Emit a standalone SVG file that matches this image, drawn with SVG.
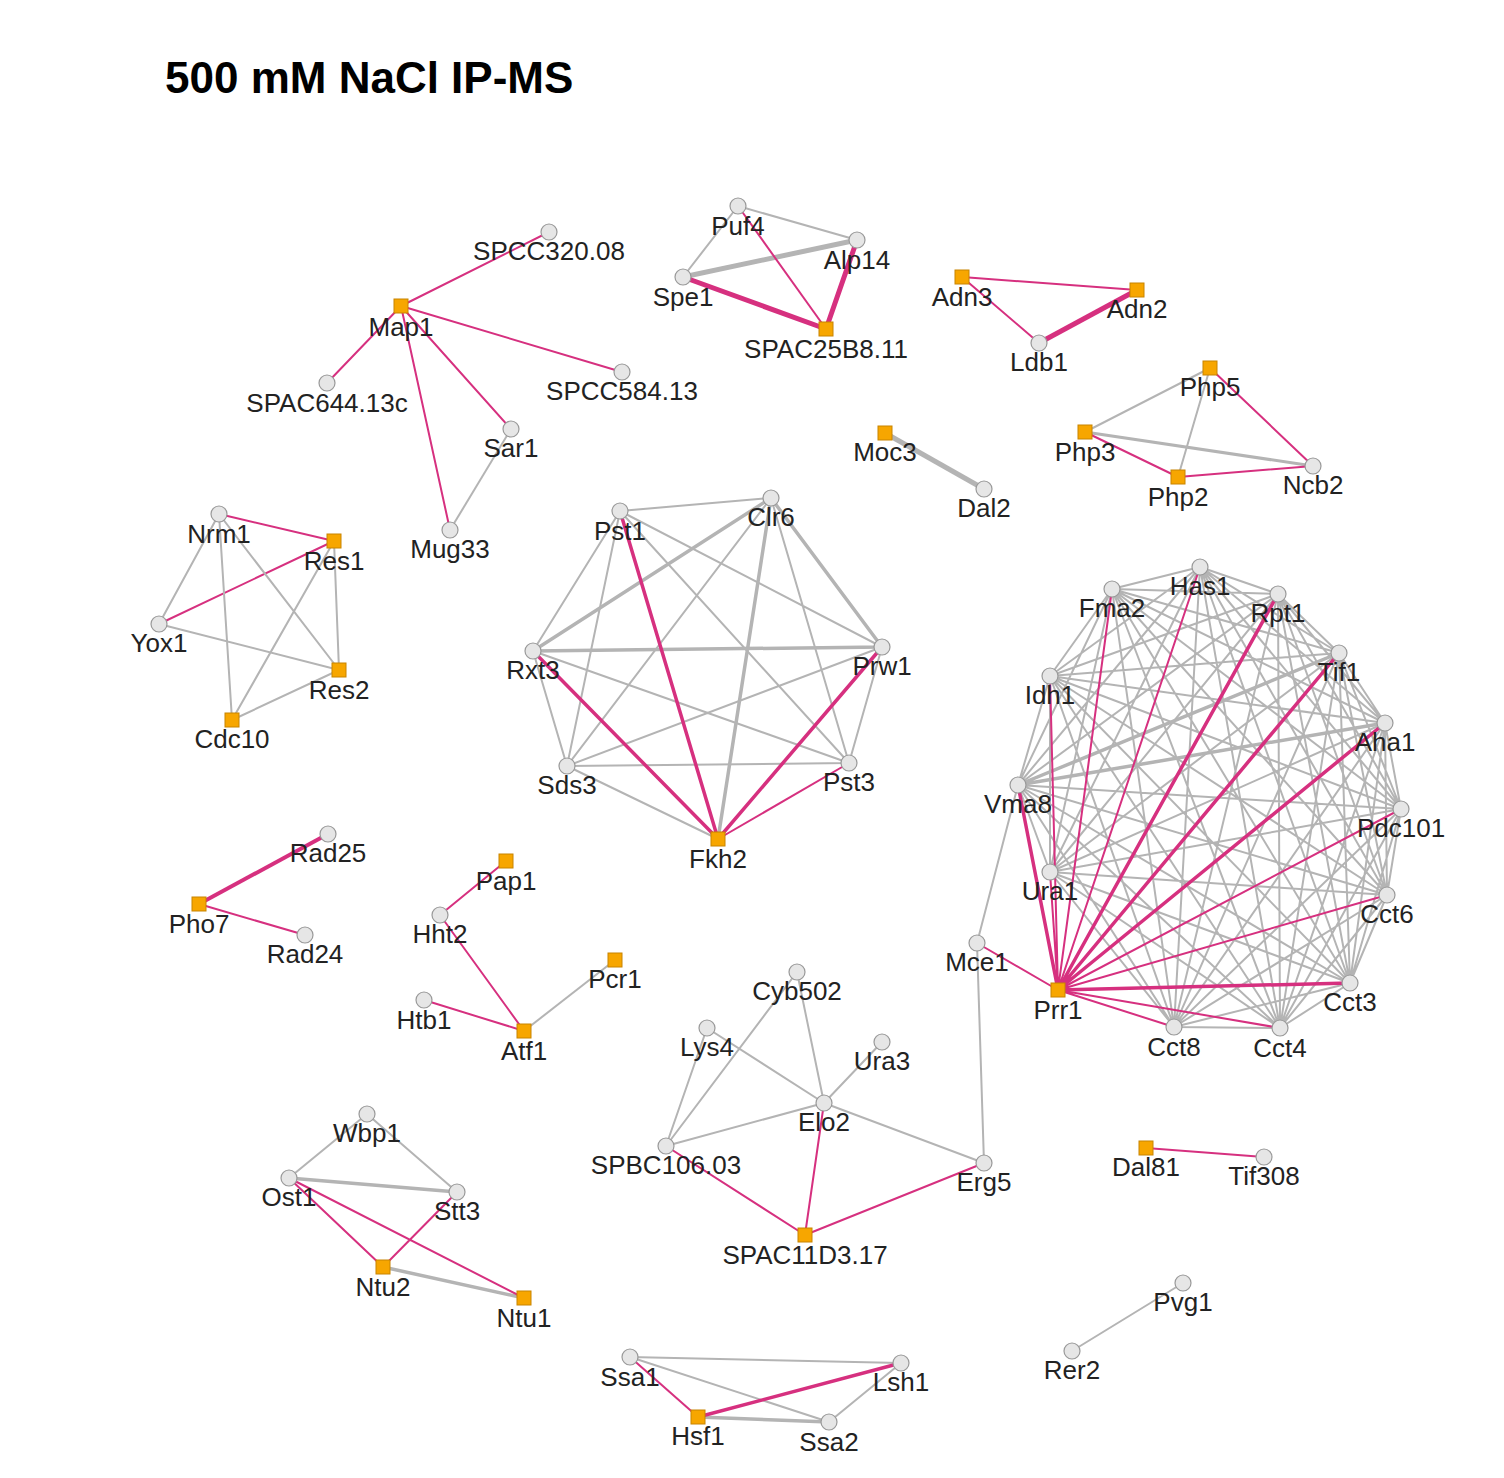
<svg xmlns="http://www.w3.org/2000/svg" width="1504" height="1478" viewBox="0 0 1504 1478">
<style>
.g{stroke:#b4b4b4;stroke-width:2;fill:none}
.gt{stroke:#b4b4b4;stroke-width:5;fill:none}
.p{stroke:#d6307f;stroke-width:2;fill:none}
.pt{stroke:#d6307f;stroke-width:5;fill:none}
.c{fill:#e6e6e6;stroke:#999;stroke-width:1.2}
.s{fill:#f7a600;stroke:#c88400;stroke-width:1}
text{font-family:"Liberation Sans",Arial,sans-serif;font-size:26px;fill:#222;text-anchor:middle}
.t{font-size:44px;font-weight:bold;text-anchor:start;fill:#000}
</style>
<rect width="1504" height="1478" fill="#fff"/>
<text class="t" x="165" y="93">500 mM NaCl IP-MS</text>
<g id="edges">
<path class="p" d="M401,306L549,232M401,306L327,383M401,306L622,372M401,306L511,429M401,306L450,530"/>
<path class="g" d="M511,429L450,530"/>
<path class="g" d="M738,206L857,240M738,206L683,277"/>
<path class="gt" d="M683,277L857,240"/>
<path class="p" d="M738,206L826,329"/>
<path class="pt" d="M683,277L826,329M857,240L826,329"/>
<path class="p" d="M962,277L1137,290M962,277L1039,343"/>
<path class="pt" d="M1039,343L1137,290"/>
<path class="g" d="M1210,368L1085,432M1210,368L1178,477"/>
<path class="gt" d="M1085,432L1313,466" style="stroke-width:3"/>
<path class="p" d="M1210,368L1313,466M1085,432L1178,477M1178,477L1313,466"/>
<path class="gt" d="M885,433L984,489"/>
<path class="p" d="M219,514L334,541M159,624L334,541"/>
<path class="g" d="M219,514L159,624M219,514L232,720M219,514L339,670M159,624L339,670M334,541L339,670M334,541L232,720M232,720L339,670"/>
<path class="g" d="M620,511L771,498M620,511L533,651M620,511L882,647M620,511L567,766M620,511L849,763M771,498L567,766M771,498L849,763M533,651L567,766M533,651L849,763M882,647L567,766M882,647L849,763M567,766L849,763M567,766L718,839"/>
<path class="gt" d="M771,498L533,651M771,498L882,647M533,651L882,647M771,498L718,839" style="stroke-width:3.5"/>
<path class="p" d="M849,763L718,839"/>
<path class="pt" d="M620,511L718,839M533,651L718,839M882,647L718,839" style="stroke-width:3.5"/>
<path class="pt" d="M328,834L199,904" style="stroke-width:4"/>
<path class="p" d="M199,904L305,935M506,861L440,915M440,915L524,1031M424,1000L524,1031"/>
<path class="g" d="M524,1031L615,960"/>
<path class="g" d="M797,972L666,1146M797,972L824,1103M707,1028L824,1103M707,1028L666,1146M882,1042L824,1103M824,1103L666,1146M824,1103L984,1163M984,1163L977,943M977,943L1018,785"/>
<path class="p" d="M824,1103L805,1235M666,1146L805,1235M984,1163L805,1235M977,943L1058,990M1146,1148L1264,1157"/>
<path class="g" d="M367,1114L289,1178M367,1114L457,1192"/>
<path class="gt" d="M289,1178L457,1192M383,1267L524,1298" style="stroke-width:3.5"/>
<path class="p" d="M289,1178L383,1267M289,1178L524,1298M457,1192L383,1267"/>
<path class="g" d="M1183,1283L1072,1351M630,1357L901,1363M630,1357L829,1422M829,1422L901,1363"/>
<path class="gt" d="M698,1417L829,1422" style="stroke-width:3.5"/>
<path class="p" d="M630,1357L698,1417"/>
<path class="pt" d="M698,1417L901,1363" style="stroke-width:3.5"/>
<path class="g" d="M1200,567L1112,589M1200,567L1278,594M1200,567L1339,653M1200,567L1050,676M1200,567L1385,723M1200,567L1018,785M1200,567L1401,809M1200,567L1050,872M1200,567L1387,895M1200,567L1350,983M1200,567L1174,1027M1200,567L1280,1028
M1112,589L1278,594M1112,589L1339,653M1112,589L1050,676M1112,589L1385,723M1112,589L1018,785M1112,589L1401,809M1112,589L1050,872M1112,589L1387,895M1112,589L1350,983M1112,589L1174,1027M1112,589L1280,1028
M1278,594L1339,653M1278,594L1050,676M1278,594L1385,723M1278,594L1018,785M1278,594L1401,809M1278,594L1050,872M1278,594L1387,895M1278,594L1350,983M1278,594L1174,1027M1278,594L1280,1028
M1339,653L1050,676M1339,653L1385,723M1339,653L1018,785M1339,653L1401,809M1339,653L1050,872M1339,653L1387,895M1339,653L1350,983M1339,653L1174,1027M1339,653L1280,1028
M1050,676L1385,723M1050,676L1018,785M1050,676L1401,809M1050,676L1050,872M1050,676L1387,895M1050,676L1350,983M1050,676L1174,1027M1050,676L1280,1028
M1385,723L1018,785M1385,723L1401,809M1385,723L1050,872M1385,723L1387,895M1385,723L1350,983M1385,723L1174,1027M1385,723L1280,1028
M1018,785L1401,809M1018,785L1050,872M1018,785L1387,895M1018,785L1350,983M1018,785L1174,1027M1018,785L1280,1028
M1401,809L1050,872M1401,809L1387,895M1401,809L1350,983M1401,809L1174,1027M1401,809L1280,1028
M1050,872L1387,895M1050,872L1350,983M1050,872L1174,1027M1050,872L1280,1028
M1387,895L1350,983M1387,895L1174,1027M1387,895L1280,1028M1350,983L1174,1027M1350,983L1280,1028M1174,1027L1280,1028"/>
<path class="gt" d="M1018,785L1385,723M1018,785L1339,653" style="stroke-width:3.5"/>
<path class="p" d="M1058,990L1112,589M1058,990L1200,567M1058,990L1050,676M1058,990L1050,872M1058,990L1401,809M1058,990L1387,895M1058,990L1174,1027M1058,990L1280,1028"/>
<path class="pt" d="M1058,990L1278,594M1058,990L1339,653M1058,990L1385,723M1058,990L1018,785M1058,990L1350,983" style="stroke-width:3.5"/>
</g>
<g id="n-SPCC320.08"><circle class="c" cx="549" cy="232" r="8"/><text x="549" y="260">SPCC320.08</text></g>
<g id="n-Map1"><rect class="s" x="394" y="299" width="14" height="14"/><text x="401" y="336">Map1</text></g>
<g id="n-SPAC644.13c"><circle class="c" cx="327" cy="383" r="8"/><text x="327" y="412">SPAC644.13c</text></g>
<g id="n-SPCC584.13"><circle class="c" cx="622" cy="372" r="8"/><text x="622" y="400">SPCC584.13</text></g>
<g id="n-Sar1"><circle class="c" cx="511" cy="429" r="8"/><text x="511" y="457">Sar1</text></g>
<g id="n-Mug33"><circle class="c" cx="450" cy="530" r="8"/><text x="450" y="558">Mug33</text></g>
<g id="n-Puf4"><circle class="c" cx="738" cy="206" r="8"/><text x="738" y="235">Puf4</text></g>
<g id="n-Alp14"><circle class="c" cx="857" cy="240" r="8"/><text x="857" y="269">Alp14</text></g>
<g id="n-Spe1"><circle class="c" cx="683" cy="277" r="8"/><text x="683" y="306">Spe1</text></g>
<g id="n-SPAC25B8.11"><rect class="s" x="819" y="322" width="14" height="14"/><text x="826" y="358">SPAC25B8.11</text></g>
<g id="n-Adn3"><rect class="s" x="955" y="270" width="14" height="14"/><text x="962" y="306">Adn3</text></g>
<g id="n-Adn2"><rect class="s" x="1130" y="283" width="14" height="14"/><text x="1137" y="318">Adn2</text></g>
<g id="n-Ldb1"><circle class="c" cx="1039" cy="343" r="8"/><text x="1039" y="371">Ldb1</text></g>
<g id="n-Php5"><rect class="s" x="1203" y="361" width="14" height="14"/><text x="1210" y="396">Php5</text></g>
<g id="n-Php3"><rect class="s" x="1078" y="425" width="14" height="14"/><text x="1085" y="461">Php3</text></g>
<g id="n-Php2"><rect class="s" x="1171" y="470" width="14" height="14"/><text x="1178" y="506">Php2</text></g>
<g id="n-Ncb2"><circle class="c" cx="1313" cy="466" r="8"/><text x="1313" y="494">Ncb2</text></g>
<g id="n-Moc3"><rect class="s" x="878" y="426" width="14" height="14"/><text x="885" y="461">Moc3</text></g>
<g id="n-Dal2"><circle class="c" cx="984" cy="489" r="8"/><text x="984" y="517">Dal2</text></g>
<g id="n-Nrm1"><circle class="c" cx="219" cy="514" r="8"/><text x="219" y="543">Nrm1</text></g>
<g id="n-Res1"><rect class="s" x="327" y="534" width="14" height="14"/><text x="334" y="570">Res1</text></g>
<g id="n-Yox1"><circle class="c" cx="159" cy="624" r="8"/><text x="159" y="652">Yox1</text></g>
<g id="n-Res2"><rect class="s" x="332" y="663" width="14" height="14"/><text x="339" y="699">Res2</text></g>
<g id="n-Cdc10"><rect class="s" x="225" y="713" width="14" height="14"/><text x="232" y="748">Cdc10</text></g>
<g id="n-Pst1"><circle class="c" cx="620" cy="511" r="8"/><text x="620" y="540">Pst1</text></g>
<g id="n-Clr6"><circle class="c" cx="771" cy="498" r="8"/><text x="771" y="526">Clr6</text></g>
<g id="n-Rxt3"><circle class="c" cx="533" cy="651" r="8"/><text x="533" y="679">Rxt3</text></g>
<g id="n-Prw1"><circle class="c" cx="882" cy="647" r="8"/><text x="882" y="675">Prw1</text></g>
<g id="n-Sds3"><circle class="c" cx="567" cy="766" r="8"/><text x="567" y="794">Sds3</text></g>
<g id="n-Pst3"><circle class="c" cx="849" cy="763" r="8"/><text x="849" y="791">Pst3</text></g>
<g id="n-Fkh2"><rect class="s" x="711" y="832" width="14" height="14"/><text x="718" y="868">Fkh2</text></g>
<g id="n-Has1"><circle class="c" cx="1200" cy="567" r="8"/><text x="1200" y="595">Has1</text></g>
<g id="n-Fma2"><circle class="c" cx="1112" cy="589" r="8"/><text x="1112" y="617">Fma2</text></g>
<g id="n-Rpt1"><circle class="c" cx="1278" cy="594" r="8"/><text x="1278" y="622">Rpt1</text></g>
<g id="n-Tif1"><circle class="c" cx="1339" cy="653" r="8"/><text x="1339" y="681">Tif1</text></g>
<g id="n-Idh1"><circle class="c" cx="1050" cy="676" r="8"/><text x="1050" y="704">Idh1</text></g>
<g id="n-Aha1"><circle class="c" cx="1385" cy="723" r="8"/><text x="1385" y="751">Aha1</text></g>
<g id="n-Vma8"><circle class="c" cx="1018" cy="785" r="8"/><text x="1018" y="813">Vma8</text></g>
<g id="n-Pdc101"><circle class="c" cx="1401" cy="809" r="8"/><text x="1401" y="837">Pdc101</text></g>
<g id="n-Ura1"><circle class="c" cx="1050" cy="872" r="8"/><text x="1050" y="900">Ura1</text></g>
<g id="n-Cct6"><circle class="c" cx="1387" cy="895" r="8"/><text x="1387" y="923">Cct6</text></g>
<g id="n-Cct3"><circle class="c" cx="1350" cy="983" r="8"/><text x="1350" y="1011">Cct3</text></g>
<g id="n-Cct8"><circle class="c" cx="1174" cy="1027" r="8"/><text x="1174" y="1056">Cct8</text></g>
<g id="n-Cct4"><circle class="c" cx="1280" cy="1028" r="8"/><text x="1280" y="1057">Cct4</text></g>
<g id="n-Prr1"><rect class="s" x="1051" y="983" width="14" height="14"/><text x="1058" y="1019">Prr1</text></g>
<g id="n-Mce1"><circle class="c" cx="977" cy="943" r="8"/><text x="977" y="971">Mce1</text></g>
<g id="n-Rad25"><circle class="c" cx="328" cy="834" r="8"/><text x="328" y="862">Rad25</text></g>
<g id="n-Pho7"><rect class="s" x="192" y="897" width="14" height="14"/><text x="199" y="933">Pho7</text></g>
<g id="n-Rad24"><circle class="c" cx="305" cy="935" r="8"/><text x="305" y="963">Rad24</text></g>
<g id="n-Pap1"><rect class="s" x="499" y="854" width="14" height="14"/><text x="506" y="890">Pap1</text></g>
<g id="n-Hht2"><circle class="c" cx="440" cy="915" r="8"/><text x="440" y="943">Hht2</text></g>
<g id="n-Pcr1"><rect class="s" x="608" y="953" width="14" height="14"/><text x="615" y="988">Pcr1</text></g>
<g id="n-Htb1"><circle class="c" cx="424" cy="1000" r="8"/><text x="424" y="1029">Htb1</text></g>
<g id="n-Atf1"><rect class="s" x="517" y="1024" width="14" height="14"/><text x="524" y="1060">Atf1</text></g>
<g id="n-Cyb502"><circle class="c" cx="797" cy="972" r="8"/><text x="797" y="1000">Cyb502</text></g>
<g id="n-Lys4"><circle class="c" cx="707" cy="1028" r="8"/><text x="707" y="1056">Lys4</text></g>
<g id="n-Ura3"><circle class="c" cx="882" cy="1042" r="8"/><text x="882" y="1070">Ura3</text></g>
<g id="n-Elo2"><circle class="c" cx="824" cy="1103" r="8"/><text x="824" y="1131">Elo2</text></g>
<g id="n-SPBC106.03"><circle class="c" cx="666" cy="1146" r="8"/><text x="666" y="1174">SPBC106.03</text></g>
<g id="n-Erg5"><circle class="c" cx="984" cy="1163" r="8"/><text x="984" y="1191">Erg5</text></g>
<g id="n-SPAC11D3.17"><rect class="s" x="798" y="1228" width="14" height="14"/><text x="805" y="1264">SPAC11D3.17</text></g>
<g id="n-Dal81"><rect class="s" x="1139" y="1141" width="14" height="14"/><text x="1146" y="1176">Dal81</text></g>
<g id="n-Tif308"><circle class="c" cx="1264" cy="1157" r="8"/><text x="1264" y="1185">Tif308</text></g>
<g id="n-Wbp1"><circle class="c" cx="367" cy="1114" r="8"/><text x="367" y="1142">Wbp1</text></g>
<g id="n-Ost1"><circle class="c" cx="289" cy="1178" r="8"/><text x="289" y="1206">Ost1</text></g>
<g id="n-Stt3"><circle class="c" cx="457" cy="1192" r="8"/><text x="457" y="1220">Stt3</text></g>
<g id="n-Ntu2"><rect class="s" x="376" y="1260" width="14" height="14"/><text x="383" y="1296">Ntu2</text></g>
<g id="n-Ntu1"><rect class="s" x="517" y="1291" width="14" height="14"/><text x="524" y="1327">Ntu1</text></g>
<g id="n-Pvg1"><circle class="c" cx="1183" cy="1283" r="8"/><text x="1183" y="1311">Pvg1</text></g>
<g id="n-Rer2"><circle class="c" cx="1072" cy="1351" r="8"/><text x="1072" y="1379">Rer2</text></g>
<g id="n-Ssa1"><circle class="c" cx="630" cy="1357" r="8"/><text x="630" y="1386">Ssa1</text></g>
<g id="n-Lsh1"><circle class="c" cx="901" cy="1363" r="8"/><text x="901" y="1391">Lsh1</text></g>
<g id="n-Hsf1"><rect class="s" x="691" y="1410" width="14" height="14"/><text x="698" y="1445">Hsf1</text></g>
<g id="n-Ssa2"><circle class="c" cx="829" cy="1422" r="8"/><text x="829" y="1451">Ssa2</text></g>
</svg>
